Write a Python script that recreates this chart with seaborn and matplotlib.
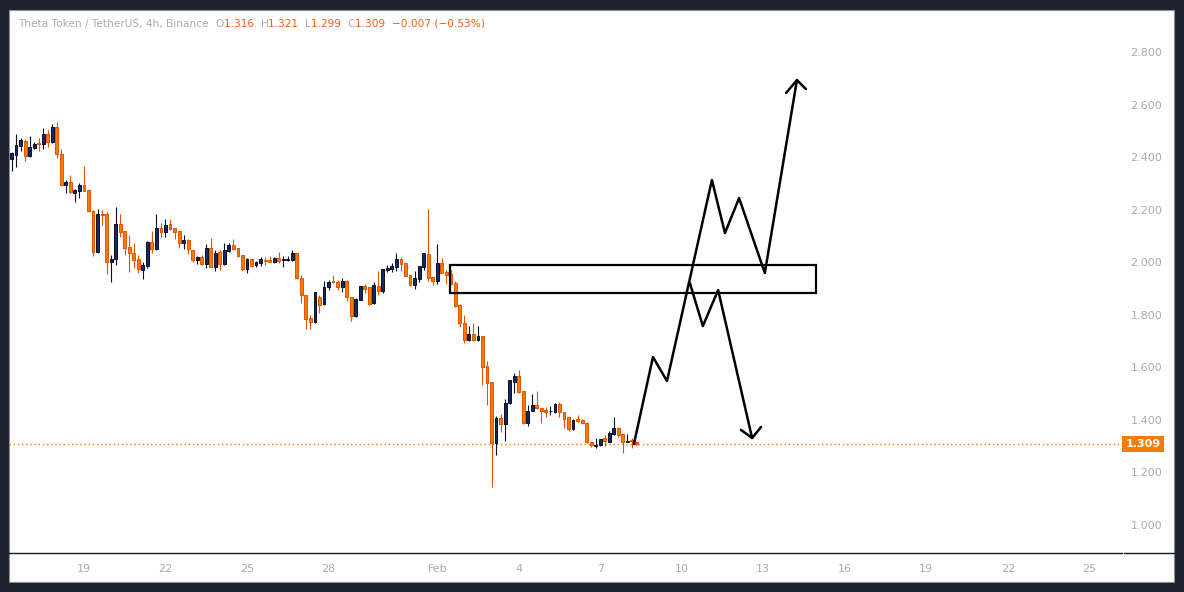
import numpy as np
import pandas as pd
import matplotlib
matplotlib.use("Agg")
import matplotlib.pyplot as plt
import matplotlib.dates as mdates
from matplotlib.patches import Rectangle
import seaborn as sns

# ---------------- data ----------------
start_time = "2022-01-16 08:00"
opens = [
    2.393, 2.408, 2.442, 2.461, 2.404, 2.435, 2.454, 2.450, 2.488, 2.457,
    2.514, 2.412, 2.294, 2.305, 2.263, 2.271, 2.294, 2.275, 2.195, 2.039,
    2.183, 2.183, 2.001, 2.012, 2.145, 2.119, 2.058, 2.035, 2.012, 1.970,
    1.986, 2.077, 2.050, 2.130, 2.115, 2.145, 2.130, 2.119, 2.073, 2.084,
    2.046, 2.008, 2.020, 1.993, 2.054, 1.982, 2.039, 1.993, 2.043, 2.065,
    2.054, 2.027, 1.974, 2.012, 1.989, 1.997, 2.008, 2.008, 2.001, 2.016,
    2.008, 2.008, 2.008, 2.035, 1.940, 1.875, 1.788, 1.773, 1.868, 1.841,
    1.906, 1.928, 1.925, 1.906, 1.928, 1.868, 1.795, 1.856, 1.909, 1.906,
    1.845, 1.909, 1.890, 1.970, 1.974, 1.982, 2.012, 1.997, 1.951, 1.913,
    1.936, 1.982, 2.031, 1.943, 1.928, 1.997, 1.963, 1.955, 1.921, 1.837,
    1.769, 1.704, 1.727, 1.704, 1.719, 1.605, 1.544, 1.312, 1.407, 1.384,
    1.464, 1.544, 1.567, 1.510, 1.388, 1.434, 1.456, 1.445, 1.438, 1.432,
    1.430, 1.460, 1.430, 1.411, 1.365, 1.403, 1.400, 1.388, 1.316, 1.302,
    1.304, 1.331, 1.316, 1.346, 1.369, 1.346, 1.316, 1.322, 1.316,
]
highs = [
    2.419, 2.488, 2.473, 2.469, 2.480, 2.457, 2.473, 2.511, 2.503, 2.526,
    2.533, 2.431, 2.313, 2.332, 2.279, 2.301, 2.366, 2.279, 2.199, 2.202,
    2.199, 2.191, 2.027, 2.210, 2.183, 2.119, 2.104, 2.073, 2.027, 2.001,
    2.081, 2.119, 2.183, 2.149, 2.164, 2.164, 2.130, 2.119, 2.104, 2.088,
    2.046, 2.024, 2.027, 2.069, 2.092, 2.046, 2.046, 2.073, 2.073, 2.088,
    2.054, 2.027, 2.016, 2.012, 2.005, 2.020, 2.020, 2.024, 2.020, 2.039,
    2.024, 2.024, 2.046, 2.035, 1.951, 1.875, 1.799, 1.887, 1.875, 1.928,
    1.932, 1.951, 1.932, 1.940, 1.932, 1.868, 1.864, 1.911, 1.917, 1.906,
    1.925, 1.967, 1.976, 1.989, 1.997, 2.035, 2.020, 1.997, 1.951, 1.967,
    1.987, 2.036, 2.202, 1.943, 2.069, 2.016, 1.970, 1.970, 1.928, 1.841,
    1.799, 1.757, 1.769, 1.757, 1.719, 1.624, 1.544, 1.415, 1.422, 1.480,
    1.553, 1.579, 1.590, 1.510, 1.456, 1.498, 1.510, 1.446, 1.449, 1.453,
    1.464, 1.468, 1.431, 1.412, 1.403, 1.419, 1.403, 1.392, 1.317, 1.331,
    1.328, 1.343, 1.358, 1.411, 1.373, 1.347, 1.346, 1.331, 1.321,
]
lows = [
    2.347, 2.362, 2.423, 2.385, 2.400, 2.431, 2.423, 2.431, 2.438, 2.452,
    2.396, 2.290, 2.263, 2.263, 2.229, 2.244, 2.271, 2.191, 2.024, 2.035,
    2.142, 1.955, 1.925, 1.989, 2.096, 2.027, 1.963, 1.978, 1.959, 1.936,
    1.978, 2.035, 2.046, 2.096, 2.096, 2.123, 2.088, 2.054, 2.050, 2.031,
    2.001, 1.993, 1.989, 1.978, 1.982, 1.967, 1.970, 1.990, 2.039, 2.046,
    2.020, 1.967, 1.959, 1.986, 1.982, 1.986, 1.989, 2.001, 1.997, 1.997,
    1.982, 2.005, 2.005, 1.936, 1.845, 1.746, 1.746, 1.770, 1.807, 1.838,
    1.894, 1.921, 1.894, 1.887, 1.852, 1.776, 1.792, 1.855, 1.883, 1.837,
    1.841, 1.875, 1.883, 1.963, 1.963, 1.967, 1.967, 1.946, 1.909, 1.898,
    1.925, 1.970, 1.928, 1.913, 1.917, 1.959, 1.917, 1.915, 1.830, 1.753,
    1.693, 1.702, 1.700, 1.702, 1.533, 1.456, 1.144, 1.266, 1.354, 1.320,
    1.462, 1.502, 1.502, 1.386, 1.377, 1.432, 1.443, 1.388, 1.411, 1.419,
    1.428, 1.411, 1.369, 1.358, 1.361, 1.392, 1.384, 1.312, 1.297, 1.293,
    1.301, 1.301, 1.315, 1.343, 1.335, 1.274, 1.315, 1.293, 1.299,
]
closes = [
    2.416, 2.446, 2.465, 2.404, 2.438, 2.450, 2.450, 2.488, 2.457, 2.514,
    2.412, 2.294, 2.305, 2.267, 2.275, 2.294, 2.271, 2.195, 2.039, 2.183,
    2.180, 2.001, 2.012, 2.145, 2.115, 2.054, 2.035, 2.008, 1.974, 1.989,
    2.077, 2.050, 2.130, 2.115, 2.142, 2.126, 2.115, 2.073, 2.084, 2.050,
    2.008, 2.020, 1.993, 2.054, 1.982, 2.035, 1.993, 2.046, 2.065, 2.050,
    2.024, 1.974, 2.012, 1.986, 2.001, 2.012, 2.005, 2.001, 2.016, 2.005,
    2.012, 2.012, 2.035, 1.940, 1.875, 1.784, 1.773, 1.887, 1.837, 1.906,
    1.925, 1.925, 1.906, 1.928, 1.868, 1.795, 1.860, 1.909, 1.898, 1.841,
    1.913, 1.890, 1.974, 1.978, 1.986, 2.012, 1.993, 1.947, 1.913, 1.940,
    1.986, 2.035, 1.940, 1.928, 1.997, 1.959, 1.951, 1.917, 1.833, 1.769,
    1.704, 1.727, 1.704, 1.719, 1.602, 1.541, 1.312, 1.407, 1.384, 1.464,
    1.552, 1.567, 1.506, 1.388, 1.434, 1.456, 1.445, 1.434, 1.430, 1.435,
    1.460, 1.430, 1.403, 1.365, 1.400, 1.396, 1.388, 1.316, 1.304, 1.305,
    1.327, 1.320, 1.350, 1.369, 1.343, 1.316, 1.320, 1.318, 1.309,
]

last_price = 1.309
header_title = "Theta Token / TetherUS, 4h, Binance"
header_ohlc = [("O", "1.316"), ("H", "1.321"), ("L", "1.299"), ("C", "1.309")]
header_change = "\u22120.007 (\u22120.53%)"

price_ticks = [1.0, 1.2, 1.4, 1.6, 1.8, 2.0, 2.2, 2.4, 2.6, 2.8]
date_ticks = ["2022-01-19", "2022-01-22", "2022-01-25", "2022-01-28", "2022-02-01",
              "2022-02-04", "2022-02-07", "2022-02-10", "2022-02-13", "2022-02-16",
              "2022-02-19", "2022-02-22", "2022-02-25"]
date_tick_labels = ["19", "22", "25", "28", "Feb", "4", "7", "10", "13", "16", "19", "22", "25"]

# hand-drawn scenario paths (time, price)
up_path_time = ["2022-02-08 05:45", "2022-02-08 22:35", "2022-02-09 11:00", "2022-02-11 02:40",
                "2022-02-11 14:10", "2022-02-12 02:40", "2022-02-13 01:25", "2022-02-14 05:45"]
up_path_price = [1.308, 1.639, 1.548, 2.313, 2.111, 2.244, 1.959, 2.693]
up_head_time = ["2022-02-13 20:10", "2022-02-14 05:45", "2022-02-14 13:40"]
up_head_price = [2.644, 2.693, 2.659]

down_path_time = ["2022-02-10 07:10", "2022-02-10 18:40", "2022-02-11 08:10", "2022-02-12 14:10"]
down_path_price = [1.921, 1.757, 1.894, 1.331]
down_head_time = ["2022-02-12 04:20", "2022-02-12 14:10", "2022-02-12 22:05"]
down_head_price = [1.362, 1.331, 1.373]

zone_time = ["2022-02-01 11:15", "2022-02-14 22:30"]
zone_price = [1.883, 1.989]

# ---------------- style ----------------
sns.set_theme(style="white")
plt.rcParams["font.family"] = ["DejaVu Sans"]

BG = "#1e222d"
UP_BODY = "#14286a"
UP_EDGE = "#0b0f1e"
DN_BODY = "#f57c00"
DN_EDGE = "#e65100"
TXT = "#a8abb4"
ORANGE_TXT = "#f0600f"

W, H = 1184, 592
fig = plt.figure(figsize=(W / 100, H / 100), dpi=100, facecolor=BG)

panel = Rectangle((9 / W, (H - 582) / H), (1174 - 9) / W, (582 - 10) / H,
                  transform=fig.transFigure, facecolor="white", edgecolor="#8a8d96",
                  linewidth=0.8, zorder=-10)
fig.patches.append(panel)

ax = fig.add_axes([9 / W, (H - 553) / H, (1122 - 9) / W, (553 - 10) / H])
ax.set_facecolor("none")
ax.set_zorder(1)

times = pd.date_range(start_time, periods=len(opens), freq="4h")
df = pd.DataFrame({"time": times, "open": opens, "high": highs, "low": lows, "close": closes})
xnum = mdates.date2num(df["time"].dt.to_pydatetime())
up = df["close"].values >= df["open"].values

wick_colors = [UP_EDGE if u else DN_EDGE for u in up]
ax.vlines(xnum, df["low"], df["high"], colors=wick_colors, linewidth=0.8, zorder=2)
body_bottom = np.minimum(df["open"], df["close"])
body_h = np.maximum(np.abs(df["close"] - df["open"]), 0.003)
ax.bar(xnum, body_h, bottom=body_bottom, width=0.105,
       color=[UP_BODY if u else DN_BODY for u in up],
       edgecolor=[UP_EDGE if u else DN_EDGE for u in up], linewidth=0.7, zorder=3)

# last price dotted line
ax.axhline(last_price, color="#f57c00", linewidth=1.0, linestyle=(0, (1, 2)), zorder=1)

# zone rectangle
zt = mdates.date2num(pd.to_datetime(zone_time).to_pydatetime())
ax.add_patch(Rectangle((zt[0], zone_price[0]), zt[1] - zt[0], zone_price[1] - zone_price[0],
                       facecolor="none", edgecolor="black", linewidth=1.6, zorder=4))

# scenario paths
for tlist, plist in [(up_path_time, up_path_price), (up_head_time, up_head_price),
                     (down_path_time, down_path_price), (down_head_time, down_head_price)]:
    sns.lineplot(x=mdates.date2num(pd.to_datetime(tlist).to_pydatetime()), y=plist,
                 sort=False, estimator=None, color="black", linewidth=1.8, ax=ax, zorder=5)

# axes limits
ax.set_xlim(mdates.date2num(pd.Timestamp("2022-01-16 05:46")),
            mdates.date2num(pd.Timestamp("2022-02-26 04:54")))
ax.set_ylim(0.8935, 2.9597)

for s in ["top", "left", "right"]:
    ax.spines[s].set_visible(False)
ax.spines["bottom"].set_color("#131722")
ax.spines["bottom"].set_linewidth(1.0)

ax.yaxis.tick_right()
ax.set_yticks(price_ticks)
ax.set_yticklabels([f"{v:.3f}" for v in price_ticks])
ax.tick_params(axis="y", length=0, pad=6, labelsize=8, labelcolor=TXT)
ax.set_xticks(mdates.date2num(pd.to_datetime(date_ticks).to_pydatetime()))
ax.set_xticklabels(date_tick_labels)
ax.tick_params(axis="x", length=0, pad=8, labelsize=8, labelcolor=TXT)
ax.set_xlabel("")
ax.set_ylabel("")
ax.grid(False)

# bottom line under price scale
fig.add_artist(plt.Line2D([1124 / W, 1174 / W], [(H - 553) / H, (H - 553) / H],
                          transform=fig.transFigure, color="#131722", linewidth=1.0))

# last price label box
fig.canvas.draw()
yp = ax.transData.transform((0, last_price))[1]
box_h = 16
fig.patches.append(Rectangle((1122 / W, (yp - box_h / 2) / H), 42 / W, box_h / H,
                             transform=fig.transFigure, facecolor="#f57c00",
                             edgecolor="none", zorder=5))
fig.text(1143 / W, yp / H, f"{last_price:.3f}", color="white", fontsize=8,
         fontweight="bold", ha="center", va="center", zorder=6)

# header
renderer = fig.canvas.get_renderer()
x_px = 18
y_fig = (H - 24) / H
pieces = [(header_title + "  ", TXT)]
for k, v in header_ohlc:
    pieces.append((k, TXT))
    pieces.append((v + "  ", ORANGE_TXT))
pieces.append((header_change, ORANGE_TXT))
for txt, col in pieces:
    t = fig.text(x_px / W, y_fig, txt, color=col, fontsize=7.6, ha="left", va="center")
    bb = t.get_window_extent(renderer=renderer)
    x_px += bb.width

fig.savefig("out.png", dpi=100, facecolor=BG)
